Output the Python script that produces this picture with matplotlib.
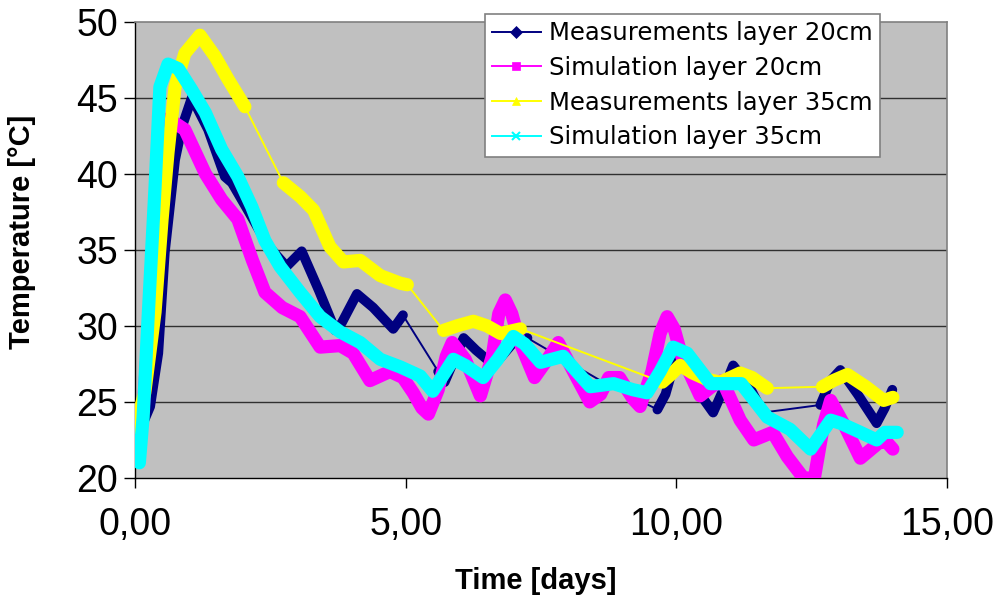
import numpy as np
import matplotlib
matplotlib.use("Agg")
import matplotlib.pyplot as plt
from matplotlib.lines import Line2D

# ---------------- data ----------------
meas20_x = [0.0, 0.03, 0.28, 0.43, 0.55, 0.74, 0.87, 1.05, 1.35, 1.66, 1.79, 2.1, 2.45, 2.8,
            3.08, 3.4, 3.7, 3.82, 4.1, 4.4, 4.77, 4.95,
            5.6, 5.72, 5.9, 6.07, 6.3, 6.5, 6.75, 6.99, 7.08, 7.25,
            8.6,
            9.65, 9.8, 10.0, 10.26, 10.5, 10.68, 10.88, 11.05, 11.35, 11.6,
            12.66, 12.85, 13.03, 13.35, 13.7, 13.85, 13.99]
meas20_y = [24.0, 22.6, 24.7, 28.2, 34.8, 40.9, 43.1, 45.0, 42.9, 39.8, 39.4, 37.5, 35.3, 33.9,
            34.9, 32.3, 29.7, 30.2, 32.1, 31.2, 29.8, 30.7,
            27.0, 26.3, 27.8, 29.2, 28.4, 27.8, 27.9, 28.9, 29.1, 29.2,
            26.4,
            24.5, 25.5, 28.0, 26.9, 25.2, 24.3, 25.9, 27.4, 26.0, 24.3,
            24.8, 26.4, 27.1, 25.5, 23.6, 24.6, 25.8]

sim20_x = [0.05, 0.15, 0.3, 0.42, 0.5, 0.62, 0.92, 1.3, 1.6, 1.9, 2.17, 2.4, 2.72, 3.05,
           3.42, 3.79, 4.03, 4.34, 4.71, 4.95, 5.14, 5.3, 5.42, 5.6, 5.75, 5.86, 6.1, 6.38, 6.6,
           6.72, 6.84, 6.96, 7.1, 7.38, 7.6, 7.82, 8.1, 8.4, 8.6, 8.75, 8.95, 9.2, 9.33, 9.55,
           9.7, 9.83, 9.96, 10.1, 10.44, 10.65, 10.85, 11.18, 11.43, 11.78, 12.05, 12.35,
           12.55, 12.72, 12.85, 13.1, 13.4, 13.77, 13.9, 14.0]
sim20_y = [21.8, 24.5, 32.0, 39.0, 43.5, 43.6, 42.9, 40.0, 38.3, 37.0, 34.3, 32.2, 31.2, 30.6,
           28.6, 28.7, 28.2, 26.4, 27.0, 26.6, 25.6, 24.6, 24.2, 25.8, 28.0, 28.9, 27.8, 25.4, 28.0,
           30.8, 31.7, 30.8, 29.0, 26.6, 27.7, 28.9, 27.0, 25.0, 25.5, 26.6, 26.6, 25.2, 24.7, 27.0,
           29.5, 30.6, 29.8, 28.0, 25.4, 26.0, 26.4, 23.8, 22.5, 23.0, 21.4, 20.0,
           20.0, 23.5, 25.1, 23.5, 21.3, 22.4, 22.3, 21.9]

meas35_x = [0.0, 0.18, 0.37, 0.5, 0.61, 0.74, 0.92, 1.2, 1.48, 1.72, 2.03,
            2.74, 3.05, 3.3, 3.6, 3.85, 4.16, 4.53, 4.9, 5.03,
            5.7, 5.95, 6.25, 6.5, 6.75, 7.12,
            9.74, 9.9, 10.07, 10.3, 10.55, 10.8, 11.0, 11.18, 11.4, 11.68,
            12.7, 12.9, 13.16, 13.5, 13.83, 14.0]
meas35_y = [23.3, 25.6, 30.9, 37.0, 41.4, 45.7, 47.9, 49.1, 47.7, 46.2, 44.4,
            39.4, 38.5, 37.6, 35.2, 34.2, 34.3, 33.3, 32.8, 32.7,
            29.7, 30.0, 30.3, 30.0, 29.5, 29.8,
            26.3, 26.8, 27.4, 26.9, 26.5, 26.3, 26.6, 26.9, 26.6, 25.9,
            26.0, 26.4, 26.8, 26.0, 25.1, 25.3]

sim35_x = [0.08, 0.15, 0.24, 0.37, 0.46, 0.61, 0.8, 1.05, 1.3, 1.6, 1.9, 2.16, 2.4, 2.68,
           3.05, 3.42, 3.79, 4.16, 4.53, 4.9, 5.27, 5.5, 5.7, 5.88, 6.1, 6.43, 6.7, 6.99,
           7.2, 7.49, 7.91, 8.41, 8.84, 9.2, 9.46, 9.7, 9.94, 10.2, 10.63, 11.0, 11.2,
           11.68, 12.1, 12.48, 12.85, 13.03, 13.4, 13.7, 13.85, 14.08]
sim35_y = [21.0, 24.0, 30.4, 39.1, 45.7, 47.2, 46.9, 45.5, 44.0, 41.6, 39.8, 37.8, 35.6, 33.9,
           32.2, 30.6, 29.6, 28.9, 27.8, 27.3, 26.7, 25.7, 26.8, 27.8, 27.4, 26.6, 27.8, 29.3,
           28.8, 27.6, 28.0, 26.0, 26.2, 25.8, 25.6, 27.0, 28.6, 28.2, 26.2, 26.2, 26.2,
           24.0, 23.2, 21.9, 23.8, 23.6, 23.0, 22.5, 23.0, 23.0]

labels = ["Measurements layer 20cm", "Simulation layer 20cm",
          "Measurements layer 35cm", "Simulation layer 35cm"]
colors = ["#000080", "#FF00FF", "#FFFF00", "#00FFFF"]
markers = ["D", "s", "^", "x"]
band_widths = [7.0, 9.5, 9.5, 9.5]
has_gaps = [True, False, True, False]

xticks = [0, 5, 10, 15]
xtick_labels = ["0,00", "5,00", "10,00", "15,00"]
yticks = [20, 25, 30, 35, 40, 45, 50]

# ---------------- figure ----------------
fig = plt.figure(figsize=(9.97, 6.03), dpi=100)
ax = fig.add_axes([135 / 997, 1 - 478 / 603, (947 - 135) / 997, (478 - 21.5) / 603])
ax.set_facecolor("#C0C0C0")
ax.set_xlim(0, 15)
ax.set_ylim(20, 50)

for yv in yticks[1:-1]:
    ax.axhline(yv, color="#303030", lw=1.0, zorder=1)

series = [(meas20_x, meas20_y), (sim20_x, sim20_y), (meas35_x, meas35_y), (sim35_x, sim35_y)]
GAP = 0.45
for i, ((xs, ys), c, bw, gp) in enumerate(zip(series, colors, band_widths, has_gaps)):
    xs = np.asarray(xs, float)
    ys = np.asarray(ys, float)
    # thin connecting line through all points
    ax.plot(xs, ys, color=c, lw=1.4, zorder=2 + i * 2, clip_on=True)
    # dense (marker-packed) segments drawn as a thick band, broken at data gaps
    bx, by = [xs[0]], [ys[0]]
    for k in range(1, len(xs)):
        if gp and xs[k] - xs[k - 1] > GAP:
            bx.append(np.nan)
            by.append(np.nan)
        bx.append(xs[k])
        by.append(ys[k])
    ax.plot(bx, by, color=c, lw=bw, solid_capstyle="round", solid_joinstyle="round",
            zorder=3 + i * 2, clip_on=True)

ax.set_xticks(xticks)
ax.set_xticklabels(xtick_labels)
ax.set_yticks(yticks)
for lab in ax.get_xticklabels() + ax.get_yticklabels():
    lab.set_fontfamily("Liberation Sans")
    lab.set_fontsize(27)
ax.tick_params(axis="x", direction="out", length=7, width=1, color="#000000", pad=14)
ax.tick_params(axis="y", direction="out", length=8, width=1, color="#000000", pad=4)

for s in ["top", "right"]:
    ax.spines[s].set_color("#808080")
    ax.spines[s].set_linewidth(1.2)
for s in ["left", "bottom"]:
    ax.spines[s].set_color("#000000")
    ax.spines[s].set_linewidth(1.0)

ax.set_ylabel("Temperature [°C]", family="Liberation Sans", fontsize=21, fontweight="bold")
ax.yaxis.set_label_coords(-0.139, 0.539)
ax.yaxis.label.set_va("center")
ax.set_xlabel("Time [days]", family="Liberation Sans", fontsize=21, fontweight="bold")
ax.xaxis.set_label_coords(0.494, -0.2256)
ax.xaxis.label.set_va("center")

handles = [Line2D([0], [0], color=c, lw=1.4, marker=m, markersize=6,
                  markeredgewidth=1.5 if m == "x" else 0.5)
           for c, m in zip(colors, markers)]
leg = fig.legend(handles, labels, loc="upper right",
                 bbox_to_anchor=(880 / 997, 1 - 14 / 603),
                 prop=dict(family="DejaVu Sans", size=17.5),
                 frameon=True, fancybox=False, framealpha=1.0, edgecolor="#808080",
                 handlelength=2.0, handletextpad=0.35, labelspacing=0.44,
                 borderpad=0.3, borderaxespad=0.0)
leg.get_frame().set_linewidth(1.2)

fig.savefig("out.png", dpi=100)
